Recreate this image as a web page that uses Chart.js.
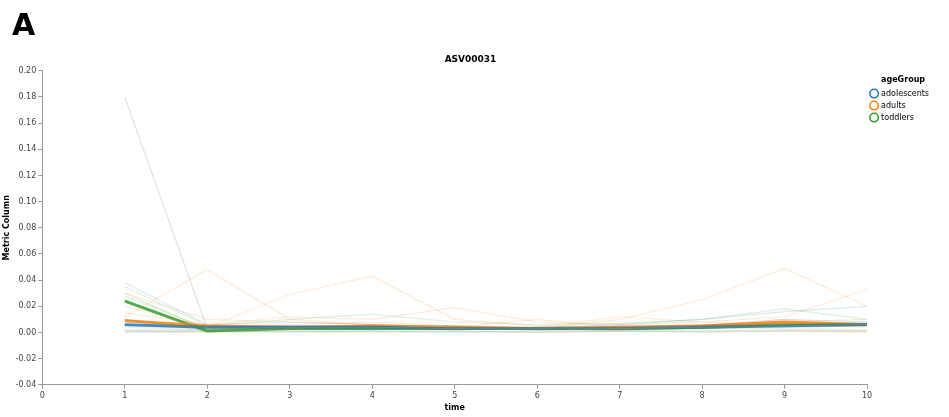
<!DOCTYPE html>
<html>
<head>
<meta charset="utf-8">
<script src="https://cdn.jsdelivr.net/npm/chart.js@4"></script>
<style>
  html, body { margin: 0; padding: 0; background: #fff; }
  #wrap { position: relative; width: 949px; height: 417px; }
  #panel { position: absolute; left: 12px; top: 7px; font: bold 30px "DejaVu Sans", sans-serif; color: #000; }
</style>
</head>
<body>
<div id="wrap">
  <div id="panel">A</div>
  <canvas id="chart" width="949" height="417"></canvas>
</div>
<script>
const times = [1, 2, 3, 4, 5, 6, 7, 8, 9, 10];
const groups = ["adolescents", "adults", "toddlers"];
const groupColors = ["31, 119, 180", "255, 127, 14", "44, 160, 44"];

// faint per-subject lines
const adolescentsLines = [
  [0.180, 0.003, 0.004, 0.004, 0.003, 0.003, 0.003, 0.004, 0.005, 0.006],
  [0.038, 0.006, 0.008, 0.006, 0.005, 0.004, 0.006, 0.010, 0.016, 0.020],
  [0.005, 0.003, 0.004, 0.003, 0.004, 0.003, 0.002, 0.005, 0.010, 0.008],
  [0.008, 0.004, 0.003, 0.005, 0.002, 0.004, 0.005, 0.004, 0.006, 0.007],
  [0.002, 0.002, 0.005, 0.004, 0.003, 0.002, 0.004, 0.006, 0.004, 0.005],
  [0.000, 0.001, 0.001, 0.001, 0.000, 0.001, 0.001, 0.001, 0.002, 0.001]
];
const adultsLines = [
  [0.012, 0.048, 0.010, 0.006, 0.004, 0.004, 0.003, 0.005, 0.007, 0.006],
  [0.008, 0.004, 0.029, 0.043, 0.010, 0.005, 0.004, 0.006, 0.008, 0.010],
  [0.020, 0.005, 0.006, 0.008, 0.005, 0.003, 0.010, 0.025, 0.049, 0.020],
  [0.015, 0.006, 0.012, 0.010, 0.019, 0.008, 0.006, 0.008, 0.012, 0.033],
  [0.030, 0.010, 0.008, 0.006, 0.004, 0.010, 0.004, 0.005, 0.010, 0.006],
  [0.010, 0.003, 0.004, 0.003, 0.005, 0.004, 0.012, 0.008, 0.006, 0.004],
  [0.004, 0.002, 0.003, 0.004, 0.003, 0.002, 0.003, 0.004, 0.003, 0.002],
  [0.001, 0.000, 0.001, 0.000, 0.001, 0.000, 0.001, 0.001, 0.001, 0.000]
];
const toddlersLines = [
  [0.035, 0.005, 0.010, 0.014, 0.008, 0.006, 0.007, 0.010, 0.018, 0.010],
  [0.030, 0.002, 0.004, 0.004, 0.003, 0.003, 0.002, 0.004, 0.008, 0.006],
  [0.025, 0.002, 0.003, 0.004, 0.003, 0.004, 0.003, 0.003, 0.006, 0.008],
  [0.010, 0.002, 0.002, 0.002, 0.004, 0.002, 0.002, 0.003, 0.004, 0.005],
  [0.028, 0.003, 0.004, 0.004, 0.003, 0.003, 0.003, 0.004, 0.005, 0.006],
  [0.001, 0.001, 0.000, 0.001, 0.001, 0.000, 0.001, 0.000, 0.001, 0.001]
];

// bold group lines
const adolescentsMean = [0.006, 0.004, 0.004, 0.004, 0.003, 0.003, 0.003, 0.004, 0.005, 0.006];
const adultsMean = [0.009, 0.005, 0.004, 0.005, 0.004, 0.003, 0.004, 0.005, 0.008, 0.006];
const toddlersMean = [0.024, 0.001, 0.003, 0.003, 0.003, 0.003, 0.003, 0.004, 0.006, 0.006];

const xTicks = [0, 1, 2, 3, 4, 5, 6, 7, 8, 9, 10];
const yTicks = [-0.04, -0.02, 0.00, 0.02, 0.04, 0.06, 0.08, 0.10, 0.12, 0.14, 0.16, 0.18, 0.20];

const font = "'DejaVu Sans', sans-serif";

function toPoints(arr) {
  return arr.map((v, i) => ({ x: times[i], y: v }));
}

const datasets = [];
[adolescentsLines, adultsLines, toddlersLines].forEach((lines, g) => {
  lines.forEach((line, k) => {
    // the tall outlier reads greyish in the reference
    const col = (g === 0 && k === 0) ? "rgba(150, 160, 165, 0.3)" : "rgba(" + groupColors[g] + ", 0.16)";
    datasets.push({
      data: toPoints(line),
      borderColor: col,
      borderWidth: 1.2,
      pointRadius: 0,
      fill: false,
      tension: 0
    });
  });
});
[adolescentsMean, adultsMean, toddlersMean].forEach((line, g) => {
  datasets.push({
    label: groups[g],
    data: toPoints(line),
    borderColor: "rgba(" + groupColors[g] + ", 0.85)",
    borderWidth: 2.8,
    pointRadius: 0,
    fill: false,
    tension: 0
  });
});

new Chart(document.getElementById("chart"), {
  type: "line",
  data: { datasets: datasets },
  options: {
    responsive: false,
    animation: false,
    layout: { padding: { left: 2, right: 10, top: 54, bottom: 4 } },
    plugins: {
      title: {
        display: true,
        text: "ASV00031",
        color: "#000",
        font: { family: font, size: 9, weight: "bold" },
        padding: { top: 0, bottom: 6 }
      },
      legend: {
        position: "right",
        align: "start",
        title: {
          display: true,
          text: "ageGroup",
          color: "#000",
          font: { family: font, size: 8, weight: "bold" },
          padding: { top: 22, bottom: 0 }
        },
        labels: {
          color: "#444",
          font: { family: font, size: 8 },
          usePointStyle: true,
          boxWidth: 6,
          boxHeight: 6,
          padding: 4,
          generateLabels: () => groups.map((g, i) => ({
            text: g,
            fillStyle: "#fff",
            strokeStyle: "rgb(" + groupColors[i] + ")",
            lineWidth: 1.5,
            pointStyle: "circle",
            datasetIndex: i
          }))
        }
      },
      tooltip: { enabled: false }
    },
    scales: {
      x: {
        type: "linear",
        min: 0,
        max: 10,
        afterBuildTicks: (axis) => { axis.ticks = xTicks.map((v) => ({ value: v })); },
        grid: { drawOnChartArea: false, drawTicks: true, tickLength: 4, color: "#999" },
        border: { display: true, color: "#999" },
        ticks: { color: "#444", font: { family: font, size: 8 }, padding: 2 },
        title: { display: true, text: "time", color: "#000", font: { family: font, size: 8, weight: "bold" }, padding: { top: 1, bottom: 0 } }
      },
      y: {
        min: -0.04,
        max: 0.20,
        afterBuildTicks: (axis) => { axis.ticks = yTicks.map((v) => ({ value: v })); },
        grid: { drawOnChartArea: false, drawTicks: true, tickLength: 4, color: "#999" },
        border: { display: true, color: "#999" },
        ticks: { color: "#444", font: { family: font, size: 8 }, padding: 2, callback: (v) => v.toFixed(2) },
        title: { display: true, text: "Metric Column", color: "#000", font: { family: font, size: 8, weight: "bold" }, padding: { top: 0, bottom: 2 } }
      }
    }
  }
});
</script>
</body>
</html>
